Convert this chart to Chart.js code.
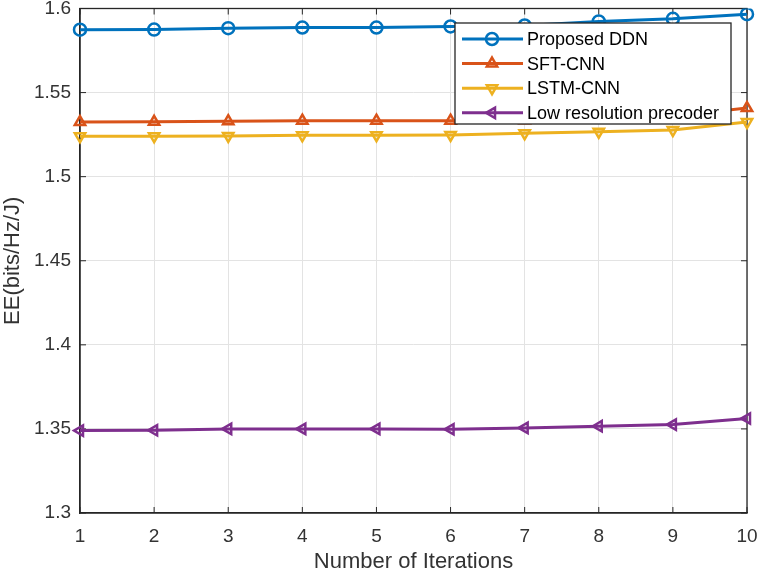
<!DOCTYPE html>
<html>
<head>
<meta charset="utf-8">
<script src="https://cdn.jsdelivr.net/npm/chart.js@4.4.1/dist/chart.umd.min.js"></script>
<style>
  html, body { margin: 0; padding: 0; background: #fff; }
  #chart { display: block; }
</style>
</head>
<body>
<canvas id="chart" width="762" height="576"></canvas>
<script>
const iterations = ['1', '2', '3', '4', '5', '6', '7', '8', '9', '10'];
const proposedDDN = [1.5874, 1.5875, 1.5883, 1.5887, 1.5887, 1.5893, 1.5899, 1.5923, 1.5939, 1.5966];
const sftCNN = [1.5325, 1.5326, 1.5330, 1.5333, 1.5333, 1.5333, 1.5336, 1.5345, 1.5360, 1.5408];
const lstmCNN = [1.5241, 1.5241, 1.5242, 1.5246, 1.5247, 1.5248, 1.5258, 1.5267, 1.5277, 1.5325];
const lowResPrecoder = [1.3490, 1.3492, 1.3500, 1.3500, 1.3500, 1.3498, 1.3506, 1.3516, 1.3526, 1.3562];
const yTickValues = [1.3, 1.35, 1.4, 1.45, 1.5, 1.55, 1.6];
const yTickLabels = ['1.3', '1.35', '1.4', '1.45', '1.5', '1.55', '1.6'];

const FONT = "'Liberation Sans', Arial, sans-serif";
const AXIS = '#262626';

const series = [
  { label: 'Proposed DDN', data: proposedDDN, color: '#0072BD', marker: 'circle', rot: 0 },
  { label: 'SFT-CNN', data: sftCNN, color: '#D95319', marker: 'triangle', rot: 0 },
  { label: 'LSTM-CNN', data: lstmCNN, color: '#EDB120', marker: 'triangle', rot: 180 },
  { label: 'Low resolution precoder', data: lowResPrecoder, color: '#7E2F8E', marker: 'triangle', rot: 270 }
];

// axes box + inward ticks, matlab style
const boxPlugin = {
  id: 'box',
  beforeDatasetsDraw(chart) {
    const { ctx, chartArea: a, scales } = chart;
    ctx.save();
    ctx.strokeStyle = AXIS;
    ctx.lineWidth = 1.3;
    ctx.strokeRect(a.left, a.top, a.right - a.left, a.bottom - a.top);
    ctx.lineWidth = 1;
    ctx.beginPath();
    scales.x.ticks.forEach((t, i) => {
      const x = scales.x.getPixelForTick(i);
      ctx.moveTo(x, a.bottom); ctx.lineTo(x, a.bottom - 6);
      ctx.moveTo(x, a.top); ctx.lineTo(x, a.top + 6);
    });
    yTickValues.forEach(v => {
      const y = scales.y.getPixelForValue(v);
      ctx.moveTo(a.left, y); ctx.lineTo(a.left + 6, y);
      ctx.moveTo(a.right, y); ctx.lineTo(a.right - 6, y);
    });
    ctx.stroke();
    ctx.restore();
  }
};

const legendPlugin = {
  id: 'boxLegend',
  afterDraw(chart) {
    const { ctx } = chart;
    const x0 = 455, y0 = 23, w = 276, h = 101;
    ctx.save();
    ctx.fillStyle = '#fff';
    ctx.fillRect(x0, y0, w, h);
    ctx.strokeStyle = AXIS;
    ctx.lineWidth = 1.3;
    ctx.strokeRect(x0, y0, w, h);
    ctx.font = '18px ' + FONT;
    ctx.textBaseline = 'middle';
    series.forEach((s, i) => {
      const y = y0 + 16 + i * 24.6;
      ctx.strokeStyle = s.color;
      ctx.lineWidth = 3;
      ctx.beginPath();
      ctx.moveTo(462, y); ctx.lineTo(523, y);
      ctx.stroke();
      ctx.lineWidth = 2.5;
      ctx.fillStyle = 'rgba(0,0,0,0)';
      Chart.helpers.drawPoint(ctx, { pointStyle: s.marker, rotation: s.rot, radius: 6, borderWidth: 2.5 }, 492, y);
      ctx.fillStyle = '#000';
      ctx.fillText(s.label, 527, y + 1);
    });
    ctx.restore();
  }
};

new Chart(document.getElementById('chart').getContext('2d'), {
  type: 'line',
  data: {
    labels: iterations,
    datasets: series.map(s => ({
      label: s.label,
      data: s.data,
      borderColor: s.color,
      borderWidth: 3,
      pointStyle: s.marker,
      pointRotation: s.rot,
      pointRadius: 6,
      pointBorderWidth: 2.5,
      pointBorderColor: s.color,
      pointBackgroundColor: 'rgba(0,0,0,0)',
      tension: 0,
      fill: false
    }))
  },
  options: {
    responsive: false,
    animation: false,
    layout: { padding: { top: 7, right: 15, left: 0, bottom: 0 } },
    plugins: {
      legend: { display: false },
      tooltip: { enabled: false }
    },
    scales: {
      x: {
        type: 'category',
        offset: false,
        afterFit: (s) => { s.height = 63; s.paddingLeft = 0; s.paddingRight = 0; },
        grid: { color: '#e3e3e3', drawTicks: false },
        border: { color: AXIS, width: 1.3 },
        ticks: { padding: 12, maxRotation: 0, autoSkip: false, color: '#333', font: { family: FONT, size: 19 } },
        title: { display: true, text: 'Number of Iterations', color: '#333', font: { family: FONT, size: 22 }, padding: { top: 0, bottom: 1 } }
      },
      y: {
        min: 1.3,
        max: 1.6,
        afterBuildTicks: (s) => { s.ticks = yTickValues.map(v => ({ value: v })); },
        afterFit: (s) => { s.width = 80; s.paddingTop = 0; s.paddingBottom = 0; },
        grid: { color: '#e3e3e3', drawTicks: false },
        border: { color: AXIS, width: 1.3 },
        ticks: {
          padding: 9,
          color: '#333',
          font: { family: FONT, size: 19 },
          callback: (v, i) => yTickLabels[i]
        },
        title: { display: true, text: 'EE(bits/Hz/J)', color: '#333', font: { family: FONT, size: 22 }, padding: { top: 0, bottom: 0 } }
      }
    }
  },
  plugins: [boxPlugin, legendPlugin]
});
</script>
</body>
</html>
